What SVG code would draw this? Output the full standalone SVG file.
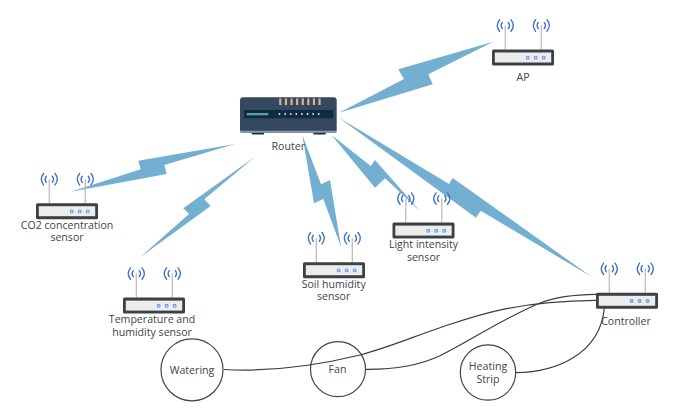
<svg xmlns="http://www.w3.org/2000/svg" xmlns:xlink="http://www.w3.org/1999/xlink" width="693" height="420" viewBox="0 0 693 420">
<style>
text{font-family:"Open Sans","Noto Sans","Liberation Sans",sans-serif;font-size:10.6px;fill:#444;text-anchor:middle}
.bolt{fill:#73afd1;stroke:none}
.wire{fill:none;stroke:#3d3d3d;stroke-width:1.2}
.ball{fill:none;stroke:#3f4549;stroke-width:1.2}
.ant{stroke:#bdbdbd;stroke-width:1.3;fill:none}
.wave{stroke:#3f72c6;stroke-width:1.4;fill:none;stroke-linecap:round}
.dot{fill:#dbe7fa;stroke:#5f96e6;stroke-width:1.1}
</style>
<defs>
<g id="wifi">
<path class="ant" d="M0,-24V0"/>
<path class="wave" d="M-3,-27Q-5.4,-24 -3,-21M3,-27Q5.4,-24 3,-21M-5.7,-29.7Q-10.3,-24 -5.7,-18.3M5.7,-29.7Q10.3,-24 5.7,-18.3"/>
</g>
<g id="device">
<use xlink:href="#wifi" href="#wifi" x="13.3"/>
<use xlink:href="#wifi" href="#wifi" x="49.3"/>
<rect x="0" y="0" width="62" height="16" rx="1.5" fill="#3a4246"/>
<rect x="2.8" y="3" width="56.4" height="10" fill="#ececec"/>
<circle class="dot" cx="35.7" cy="8.2" r="1.4"/>
<circle class="dot" cx="43.7" cy="8.2" r="1.4"/>
<circle class="dot" cx="51.7" cy="8.2" r="1.4"/>
</g>
</defs>
<rect width="693" height="420" fill="#fff"/>
<g id="connectors">
<polygon class="bolt" points="493.3,41.7 398.3,69.3 404,79 339,112.7 432.7,84.3 428.3,74.3"/>
<polygon class="bolt" points="235,144 138.3,160.7 140.7,169.3 70.7,191.7 166.7,174 164.3,165"/>
<polygon class="bolt" points="255,156.7 183.3,208.3 189,214 140,257.3 210.7,206 204.3,199.3"/>
<polygon class="bolt" points="302.3,135 314,203.3 323.3,199 341,246.7 330,180 321,184.3"/>
<polygon class="bolt" points="331.5,135 375,187.7 385,178.3 420,211 375,160 370.7,166"/>
<polygon class="bolt" points="338.3,117.3 476,217.7 480.7,210.7 592.3,277.3 452.7,178 449,184"/>
<path class="wire" d="M224,369.5C270,372 315,366 360,355C390,347 415,336 440,327.7C470,318 510,301 596,300.3"/>
<path class="wire" d="M366,369.3C395,369.5 418,366 440,355.7C470,341 500,320 540,303C558,296 575,294.5 596,294.3"/>
<path class="wire" d="M516,372.7C555,372 600,355 604.3,308"/>
</g>
<g id="router">
<rect x="251.7" y="131" width="12.5" height="3.6" rx="1" fill="#12303f"/>
<rect x="313.3" y="131" width="12.5" height="3.6" rx="1" fill="#12303f"/>
<rect x="240" y="97.3" width="96.7" height="35.4" rx="3" fill="#34495f"/>
<rect x="240" y="130.8" width="96.7" height="1.9" rx="1" fill="#8a9bab"/>
<rect x="244" y="110" width="89.3" height="8.3" rx="1" fill="#0e2c3e"/>
<rect x="246.7" y="113" width="21.6" height="2.3" fill="#5fa0a8"/>
<g fill="#dcb888">
<rect x="279.2" y="98.5" width="2.1" height="6.5"/><rect x="284.9" y="98.5" width="2.1" height="6.5"/><rect x="290.5" y="98.5" width="2.1" height="6.5"/><rect x="296.1" y="98.5" width="2.1" height="6.5"/><rect x="301.7" y="98.5" width="2.1" height="6.5"/><rect x="307.3" y="98.5" width="2.1" height="6.5"/><rect x="312.9" y="98.5" width="2.1" height="6.5"/><rect x="318.5" y="98.5" width="2.1" height="6.5"/>
</g>
<g fill="#e6eef0">
<circle cx="279.5" cy="114" r=".9"/><circle cx="285.1" cy="114" r=".9"/><circle cx="290.7" cy="114" r=".9"/><circle cx="296.3" cy="114" r=".9"/><circle cx="301.9" cy="114" r=".9"/><circle cx="307.5" cy="114" r=".9"/><circle cx="313.1" cy="114" r=".9"/><circle cx="318.7" cy="114" r=".9"/>
</g>
<text x="288.3" y="150">Router</text>
</g>
<g id="ap"><use xlink:href="#device" href="#device" x="492" y="49.5"/><text x="523" y="81">AP</text></g>
<g id="co2"><use xlink:href="#device" href="#device" x="36" y="203.2"/><text x="67" y="228.5">CO2 concentration</text><text x="67" y="241.2">sensor</text></g>
<g id="temperature"><use xlink:href="#device" href="#device" x="123" y="297.6"/><text x="152" y="322.8">Temperature and</text><text x="152" y="335.5">humidity sensor</text></g>
<g id="soil"><use xlink:href="#device" href="#device" x="303" y="262.2"/><text x="333.7" y="287.5">Soil humidity</text><text x="333.7" y="300.2">sensor</text></g>
<g id="light"><use xlink:href="#device" href="#device" x="392.5" y="222.6"/><text x="423.5" y="248.3">Light intensity</text><text x="423.5" y="261">sensor</text></g>
<g id="controller"><use xlink:href="#device" href="#device" x="596" y="292.8"/><text x="626" y="325">Controller</text></g>
<g id="watering"><circle class="ball" cx="192" cy="369.8" r="31"/><text x="192" y="373.5">Watering</text></g>
<g id="fan"><circle class="ball" cx="338" cy="369.2" r="27.5"/><text x="337.5" y="373.3">Fan</text></g>
<g id="heating"><circle class="ball" cx="488" cy="372.5" r="27.7"/><text x="488" y="370">Heating</text><text x="488" y="382.7">Strip</text></g>
</svg>
